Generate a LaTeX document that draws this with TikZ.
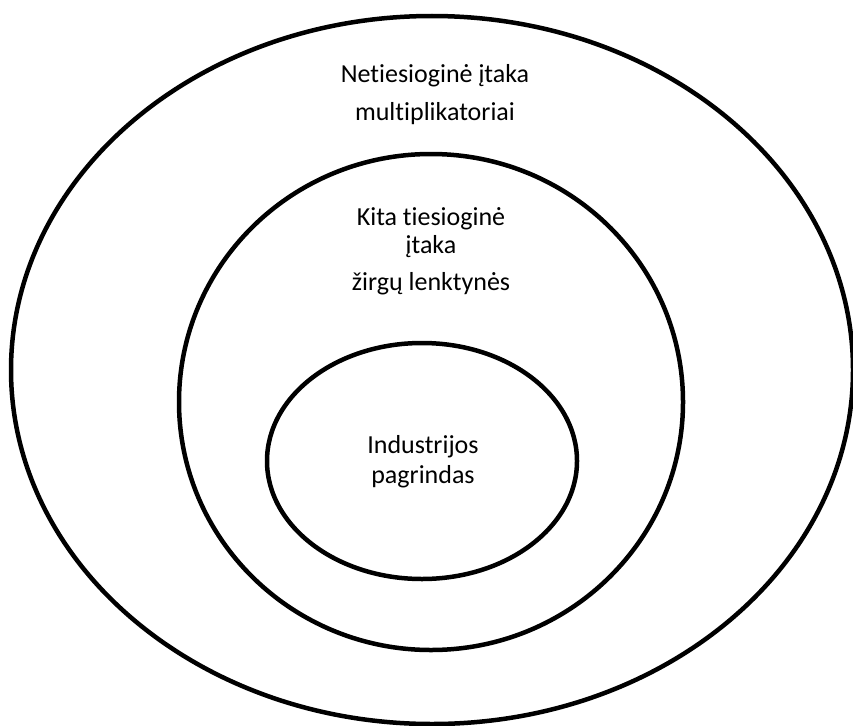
\documentclass[tikz,border=0pt]{standalone}
\usepackage{fontspec}
\setmainfont[RawFeature=-liga]{Carlito}
\usetikzlibrary{shapes}
\usetikzlibrary{positioning}

\begin{document}
\begin{tikzpicture}
[x=1pt,y=-1pt, ring node/.style={ellipse,draw,line width=4.5pt,
    inner sep=0pt, outer sep=0pt}, empt node/.style={inner
    sep=0pt,outer sep=0pt,anchor=base,font=\fontsize{26}{30}\selectfont}]

    \useasboundingbox (0,0) rectangle (853,725);

    \node [ring node, minimum width=842pt, minimum height=708pt] (outer) at (432,370) {};
    \node [ring node, minimum width=504pt, minimum height=496pt] (mid) at (431,402) {};
    \node [ring node, minimum width=310pt, minimum height=236pt] (core) at (422,461) {};

    \node [empt node] (o1) at (435,82) {Netiesioginė įtaka};
    \node [empt node] (o2) [below=38pt of o1.base, anchor=base] {multiplikatoriai};

    \node [empt node] (m1) at (431,225) {Kita tiesioginė};
    \node [empt node] (m2) [below=28pt of m1.base, anchor=base] {įtaka};
    \node [empt node] (m3) [below=37pt of m2.base, anchor=base] {žirgų lenktynės};

    \node [empt node] (c1) at (423,453) {Industrijos};
    \node [empt node] (c2) [below=30pt of c1.base, anchor=base] {pagrindas};
\end{tikzpicture}
\end{document}
